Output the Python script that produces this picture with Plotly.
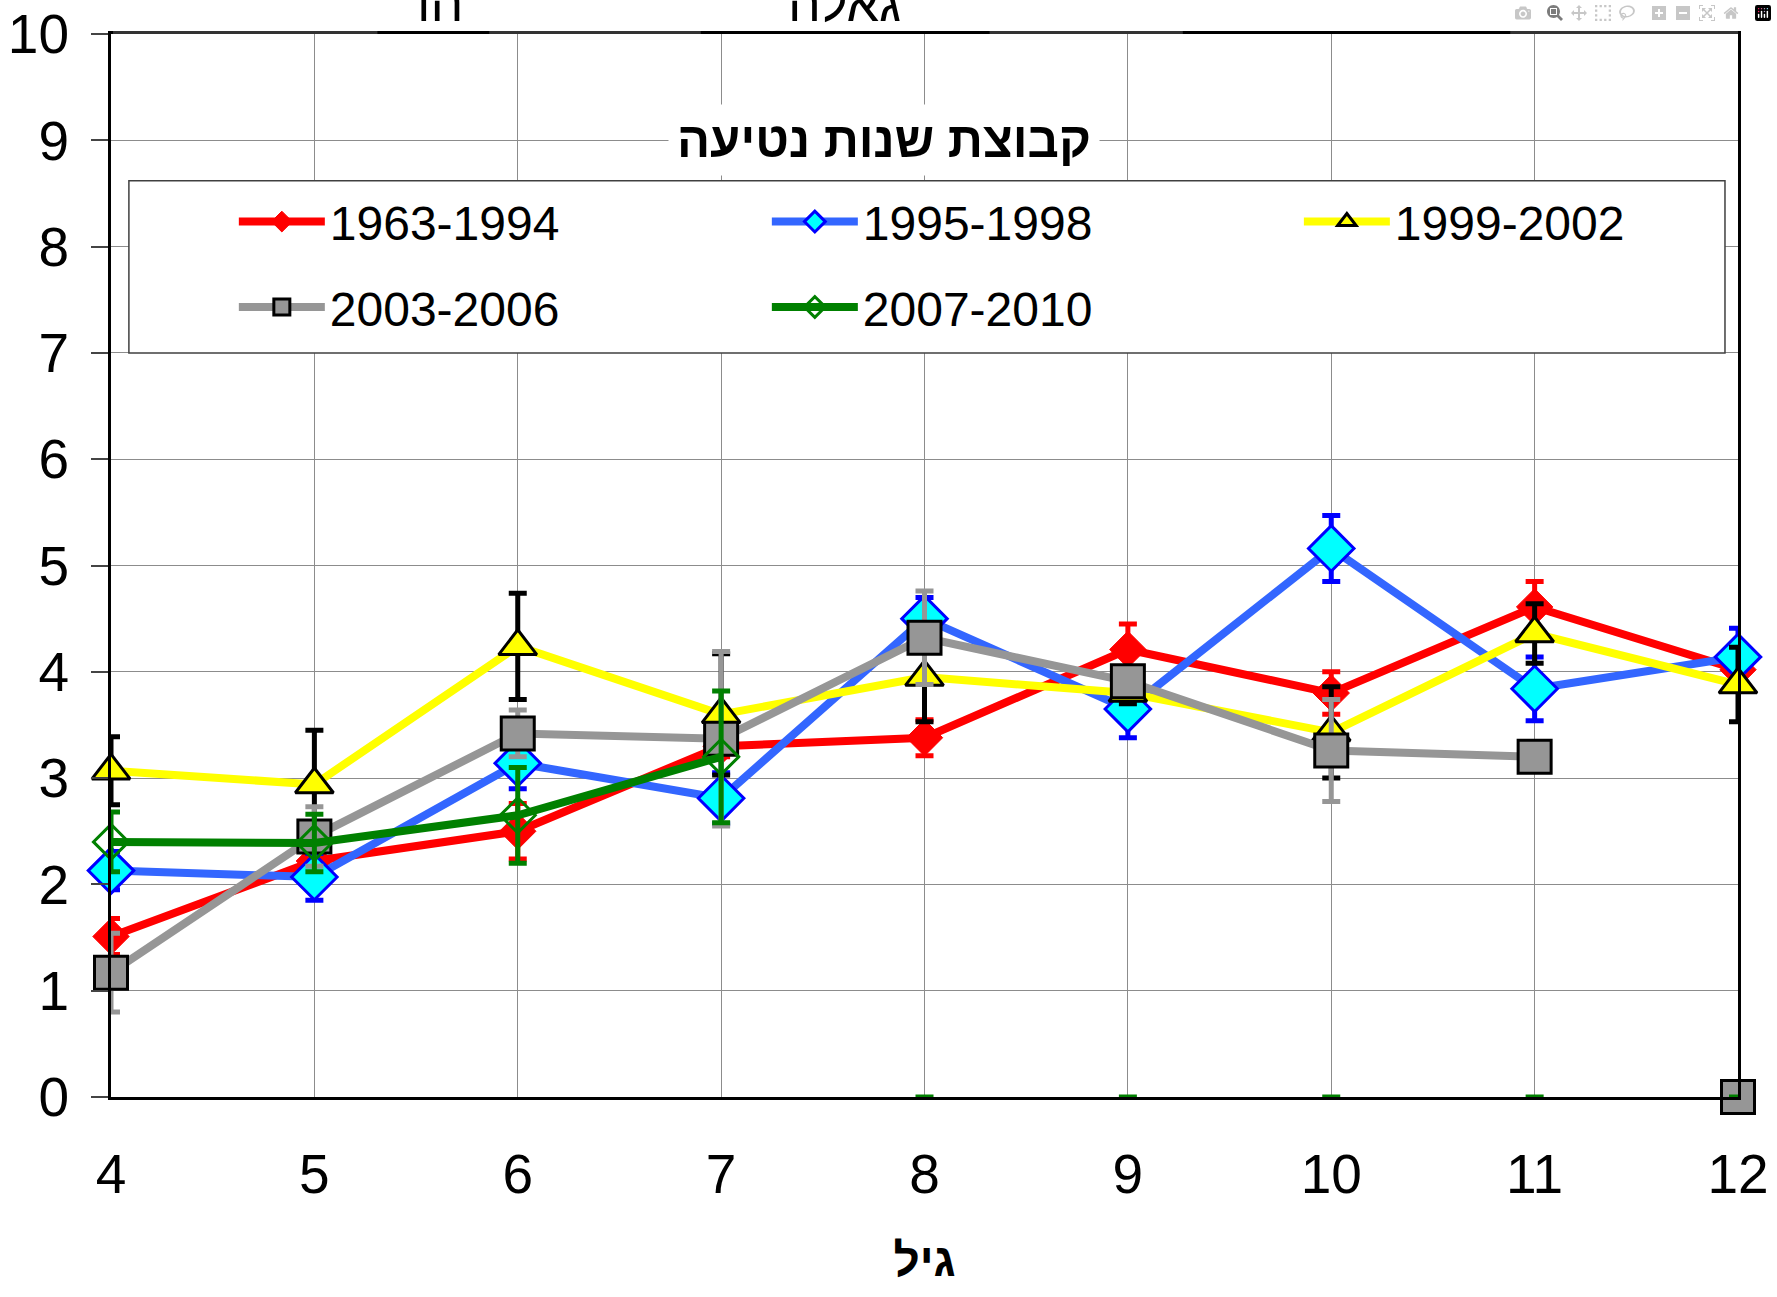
import plotly.graph_objects as go

# ages (x) and group means / error bars
ages = [4, 5, 6, 7, 8, 9, 10, 11, 12]

y_1963_1994 = [1.51, 2.22, 2.50, 3.30, 3.38, 4.21, 3.80, 4.61, 4.02]
e_1963_1994 = [0.17, 0.10, 0.26, 0.10, 0.17, 0.24, 0.20, 0.24, 0.10]

y_1995_1998 = [2.13, 2.07, 3.14, 2.81, 4.50, 3.65, 5.16, 3.84, 4.14]
e_1995_1998 = [0.18, 0.22, 0.24, 0.24, 0.20, 0.27, 0.31, 0.30, 0.27]

y_1999_2002 = [3.07, 2.94, 4.24, 3.60, 3.95, 3.80, 3.43, 4.36, 3.88]
e_1999_2002 = [0.32, 0.51, 0.50, 0.57, 0.42, 0.10, 0.43, 0.28, 0.35]

ages_2003_2006 = [4, 5, 6, 7, 8, 9, 10, 11]
y_2003_2006 = [1.17, 2.45, 3.42, 3.37, 4.32, 3.91, 3.26, 3.20]
e_2003_2006 = [0.37, 0.28, 0.22, 0.82, 0.44, 0.10, 0.48, 0.0]
ages_2003_2006_zero = [12]
y_2003_2006_zero = [0]

ages_2007_2010 = [4, 5, 6, 7]
y_2007_2010 = [2.40, 2.39, 2.65, 3.20]
e_2007_2010 = [0.28, 0.27, 0.45, 0.62]
ages_2007_2010_zero = [8, 9, 10, 11, 12]
y_2007_2010_zero = [0, 0, 0, 0, 0]

FONT = "Liberation Sans, Arial, sans-serif"


def err(vals, color):
    return dict(type="data", array=vals, visible=True, color=color,
                thickness=5, width=9)


fig = go.Figure()

fig.add_trace(go.Scatter(
    x=ages, y=y_1963_1994, name="1963-1994", mode="lines+markers",
    legend="legend", legendgroup="a",
    line=dict(color="#FF0000", width=8),
    marker=dict(symbol="diamond", size=28, color="#FF0000",
                line=dict(color="#FF0000", width=1)),
    error_y=err(e_1963_1994, "#FF0000"), cliponaxis=False))

fig.add_trace(go.Scatter(
    x=ages, y=y_1995_1998, name="1995-1998", mode="lines+markers",
    legend="legend2", legendgroup="b",
    line=dict(color="#3366FF", width=8),
    marker=dict(symbol="diamond", size=35, color="#00FFFF",
                line=dict(color="#0000FF", width=3)),
    error_y=err(e_1995_1998, "#0000FF"), cliponaxis=False))

fig.add_trace(go.Scatter(
    x=ages, y=y_1999_2002, name="1999-2002", mode="lines+markers",
    legend="legend3", legendgroup="c",
    line=dict(color="#FFFF00", width=8),
    marker=dict(symbol="triangle-up", size=33, color="#FFFF00",
                line=dict(color="#000000", width=3)),
    error_y=err(e_1999_2002, "#000000"), cliponaxis=False))

fig.add_trace(go.Scatter(
    x=ages_2003_2006, y=y_2003_2006, name="2003-2006", mode="lines+markers",
    legend="legend", legendgroup="d",
    line=dict(color="#969696", width=8),
    marker=dict(symbol="square", size=33, color="#969696",
                line=dict(color="#000000", width=3)),
    error_y=err(e_2003_2006, "#969696"), cliponaxis=False))

fig.add_trace(go.Scatter(
    x=ages_2003_2006_zero, y=y_2003_2006_zero, name="2003-2006", mode="markers",
    marker=dict(symbol="square", size=33, color="#969696",
                line=dict(color="#000000", width=3)),
    showlegend=False, cliponaxis=False))

fig.add_trace(go.Scatter(
    x=ages_2007_2010, y=y_2007_2010, name="2007-2010", mode="lines+markers",
    legend="legend2", legendgroup="e",
    line=dict(color="#008000", width=8),
    marker=dict(symbol="diamond-open", size=27, color="#008000",
                line=dict(color="#008000", width=3)),
    error_y=err(e_2007_2010, "#008000"), cliponaxis=False))

fig.add_trace(go.Scatter(
    x=ages_2007_2010_zero, y=y_2007_2010_zero, name="2007-2010", mode="markers",
    marker=dict(size=1, opacity=0),
    error_y=err([0, 0, 0, 0, 0], "#008000"),
    showlegend=False, cliponaxis=False))

# the legend frame drawn as a box, title above it
fig.add_shape(type="rect", xref="paper", yref="paper",
              x0=0.011, x1=0.992, y0=0.700, y1=0.862,
              line=dict(color="#404040", width=1.5), fillcolor="white",
              layer="above")

# heavy pieces of the cropped frame along the top edge
for a, b in [(4.01, 5.31), (5.86, 6.90), (8.32, 9.27), (10.88, 12.0)]:
    fig.add_shape(type="rect", xref="x", yref="paper", ysizemode="pixel",
                  yanchor=1, x0=a, x1=b, y0=0, y1=3,
                  fillcolor="#333333", line=dict(width=0), layer="above")

fig.add_annotation(text="<b>קבוצת שנות נטיעה</b>", xref="paper", yref="paper",
                   x=0.475, y=0.9, xanchor="center", yanchor="middle",
                   showarrow=False, bgcolor="white", borderpad=8,
                   font=dict(family=FONT, size=49, color="black"))

# cropped remains of the original title
for txt, px in [("הו", 0.202), ("גאלה", 0.451)]:
    fig.add_annotation(text=txt, xref="paper", yref="paper", x=px, y=1,
                       xanchor="center", yanchor="bottom", yshift=0,
                       showarrow=False,
                       font=dict(family=FONT, size=52, color="black"))

leg = dict(orientation="v", xanchor="left", yanchor="top", y=0.859,
           bgcolor="rgba(0,0,0,0)", borderwidth=0, itemwidth=86,
           tracegroupgap=20, font=dict(family=FONT, size=48, color="black"))

fig.update_layout(
    template="none",
    width=1777, height=1297,
    margin=dict(l=111, r=39, t=34, b=200, autoexpand=False),
    paper_bgcolor="white", plot_bgcolor="white",
    font=dict(family=FONT, size=55, color="black"),
    showlegend=True,
    legend=dict(leg, x=0.0755),
    legend2=dict(leg, x=0.4031),
    legend3=dict(leg, x=0.7301),
    xaxis=dict(range=[4, 12], dtick=1, showgrid=True, gridcolor="#8c8c8c",
               gridwidth=1, showline=True, linecolor="black", linewidth=3,
               mirror=True, ticks="", ticklabelstandoff=27, zeroline=False,
               automargin=False,
               title=dict(text="<b>גיל</b>", font=dict(family=FONT, size=46),
                          standoff=40)),
    yaxis=dict(range=[0, 10], dtick=1, showgrid=True, gridcolor="#8c8c8c",
               gridwidth=1, showline=True, linecolor="black", linewidth=3,
               mirror=True, ticks="outside", ticklen=17, tickwidth=2,
               tickcolor="#444444", ticklabelstandoff=11, zeroline=False,
               automargin=False),
)

fig.write_html("out.html", post_script="document.body.style.margin='0';")
